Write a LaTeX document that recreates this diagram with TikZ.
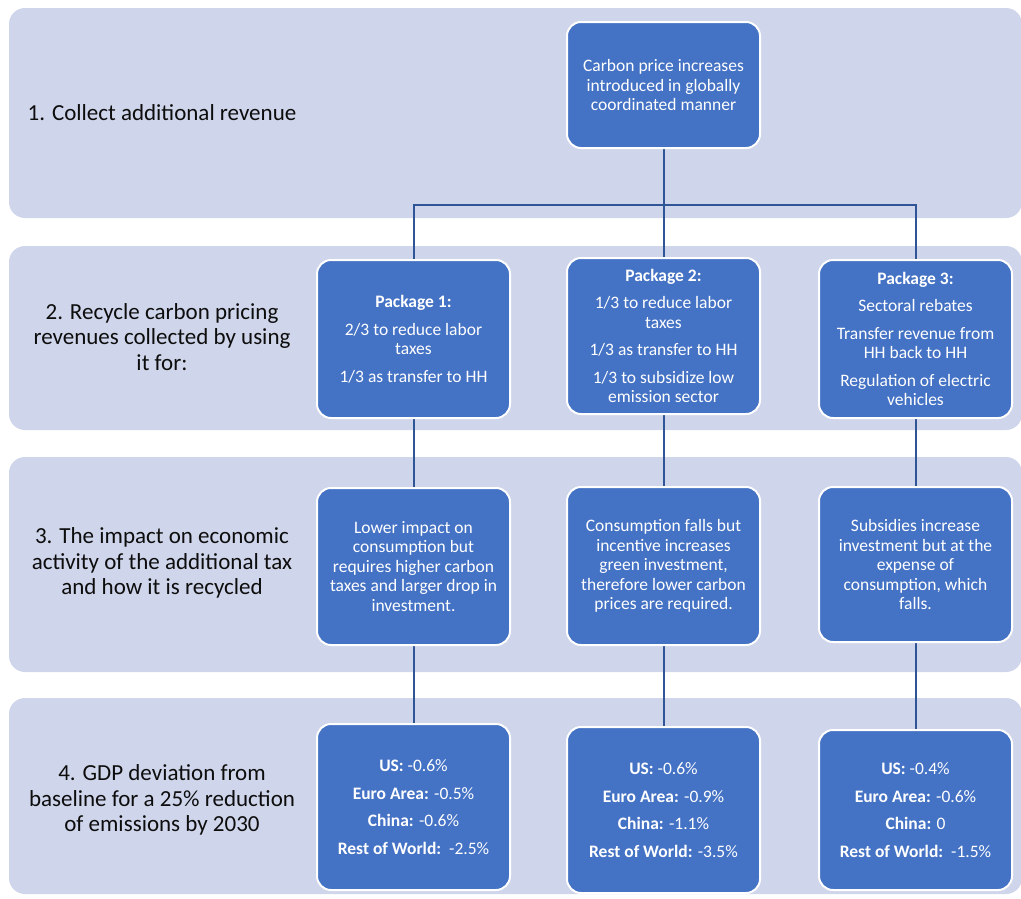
\documentclass[tikz,border=0pt]{standalone}
\usepackage{fontspec}
\setmainfont{Carlito}
\definecolor{bandcol}{HTML}{CFD5EA}
\definecolor{boxcol}{HTML}{4472C4}
\definecolor{conncol}{HTML}{2F5597}
\definecolor{labelcol}{HTML}{0D0D0D}
\pgfdeclarelayer{bandlayer}
\pgfdeclarelayer{connlayer}
\pgfsetlayers{bandlayer,connlayer,main}
\begin{document}
\begin{tikzpicture}[x=1pt,y=-1pt,
  bandshape/.style={fill=bandcol, draw=none, rounded corners=16pt},
  bluebox/.style={fill=boxcol, draw=white, line width=2pt, rounded corners=14pt,
    text=white, align=center, minimum width=193pt, inner sep=0pt,
    font=\fontsize{17.5}{19.5}\selectfont},
  bandlabel/.style={align=center, text=labelcol, inner sep=0pt,
    font=\fontsize{23}{25.5}\selectfont},
  connector/.style={draw=conncol, line width=2pt}]
\useasboundingbox (0,0) rectangle (1021,898);

% bands
\begin{pgfonlayer}{bandlayer}
\fill[bandshape] (9,8) rectangle (1022,218);
\fill[bandshape] (9,246) rectangle (1022,430);
\fill[bandshape] (9,457) rectangle (1022,672);
\fill[bandshape] (9,698) rectangle (1022,894);
\end{pgfonlayer}

% band labels
\node[bandlabel] (l1) at (162,113) {1. Collect additional revenue};
\node[bandlabel] (l2) at (162,337) {2. Recycle carbon pricing\\revenues collected by using\\it for:};
\node[bandlabel] (l3) at (162,563) {3. The impact on economic\\activity of the additional tax\\and how it is recycled};
\node[bandlabel] (l4) at (162,800) {4. GDP deviation from\\baseline for a 25\% reduction\\of emissions by 2030};

% top box
\node[bluebox, minimum height=126pt] (top) at (663.5,85)
  {Carbon price increases\\introduced in globally\\coordinated manner};

% packages
\node[bluebox, minimum height=158pt] (p1) at (413.5,339)
  {\textbf{Package 1:}\\[8pt]2/3 to reduce labor\\taxes\\[8pt]1/3 as transfer to HH};
\node[bluebox, minimum height=156pt] (p2) at (663.5,336)
  {\textbf{Package 2:}\\[8pt]1/3 to reduce labor\\taxes\\[8pt]1/3 as transfer to HH\\[8pt]1/3 to subsidize low\\emission sector};
\node[bluebox, minimum height=158pt] (p3) at (915.5,339)
  {\textbf{Package 3:}\\[8pt]Sectoral rebates\\[8pt]Transfer revenue from\\HH back to HH\\[8pt]Regulation of electric\\vehicles};

% impacts
\node[bluebox, minimum height=157pt] (r1) at (413.5,566.5)
  {Lower impact on\\consumption but\\requires higher carbon\\taxes and larger drop in\\investment.};
\node[bluebox, minimum height=158pt] (r2) at (663.5,566)
  {Consumption falls but\\incentive increases\\green investment,\\therefore lower carbon\\prices are required.};
\node[bluebox, minimum height=155pt] (r3) at (915.5,564.5)
  {Subsidies increase\\investment but at the\\expense of\\consumption, which\\falls.};

% GDP
\node[bluebox, minimum height=166pt] (g1) at (413.5,807)
  {\textbf{US:} -0.6\%\\[8pt]\textbf{Euro Area:} -0.5\%\\[8pt]\textbf{China:} -0.6\%\\[8pt]\textbf{Rest of World:}\ \ -2.5\%};
\node[bluebox, minimum height=166pt] (g2) at (663.5,810)
  {\textbf{US:} -0.6\%\\[8pt]\textbf{Euro Area:} -0.9\%\\[8pt]\textbf{China:} -1.1\%\\[8pt]\textbf{Rest of World:} -3.5\%};
\node[bluebox, minimum height=160pt] (g3) at (915.5,810)
  {\textbf{US:} -0.4\%\\[8pt]\textbf{Euro Area:} -0.6\%\\[8pt]\textbf{China:} 0\\[8pt]\textbf{Rest of World:}\ \ -1.5\%};

% connectors
\coordinate (bus) at (663.5,205);
\begin{pgfonlayer}{connlayer}
\draw[connector] (top.south) -- (bus);
\draw[connector] (p1.north) |- (bus) -| (p3.north);
\draw[connector] (bus) -- (p2.north);
\draw[connector] (p1.south) -- (r1.north);
\draw[connector] (p2.south) -- (r2.north);
\draw[connector] (p3.south) -- (r3.north);
\draw[connector] (r1.south) -- (g1.north);
\draw[connector] (r2.south) -- (g2.north);
\draw[connector] (r3.south) -- (g3.north);
\end{pgfonlayer}
\end{tikzpicture}
\end{document}
